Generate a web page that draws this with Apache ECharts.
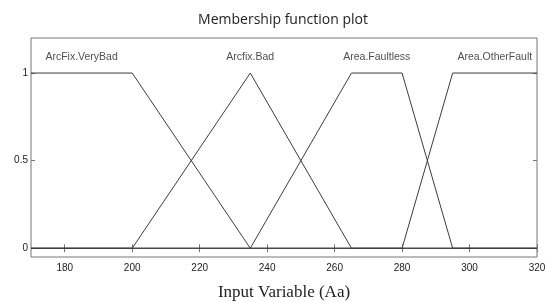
<!DOCTYPE html>
<html>
<head>
    <meta charset="utf-8">
    <title>Membership function plot</title>
    <script src="https://cdn.jsdelivr.net/npm/echarts@6/dist/echarts.min.js"></script>
    <style>
        html, body { margin: 0; padding: 0; background: #fff; }
        #main { width: 545px; height: 302px; }
    </style>
</head>
<body>
<div id="main"></div>
<script>
    // membership functions, sampled at their break points
    var veryBad = [[170, 1], [200, 1], [235, 0], [320, 0]];
    var bad = [[170, 0], [200, 0], [235, 1], [265, 0], [320, 0]];
    var faultless = [[170, 0], [235, 0], [265, 1], [280, 1], [295, 0], [320, 0]];
    var otherFault = [[170, 0], [280, 0], [295, 1], [320, 1]];

    var mfNames = ['ArcFix.VeryBad', 'Arcfix.Bad', 'Area.Faultless', 'Area.OtherFault'];
    // label positions: centre of each peak, at 1.1
    var labelX = [185, 235, 272.5, 307.5];
    var labelY = 1.1;

    var xTicks = [180, 200, 220, 240, 260, 280, 300, 320];
    var yTicks = [0, 0.5, 1];

    var lineCol = '#3c3c3c';
    var textCol = '#222';

    var myChart = echarts.init(document.getElementById('main'));

    function mfSeries(name, data) {
        return {
            name: name,
            type: 'line',
            data: data,
            symbol: 'none',
            silent: true,
            lineStyle: {color: lineCol, width: 1}
        };
    }

    var series = [
        mfSeries(mfNames[0], veryBad),
        mfSeries(mfNames[1], bad),
        mfSeries(mfNames[2], faultless),
        mfSeries(mfNames[3], otherFault),
        {
            type: 'scatter',
            symbolSize: 0,
            silent: true,
            data: labelX.map(function (x, i) {
                return {value: [x, labelY], name: mfNames[i]};
            }),
            label: {
                show: true,
                position: 'inside',
                offset: [0, 2],
                formatter: '{b}',
                color: textCol,
                fontFamily: 'Liberation Sans',
                fontSize: 10.5
            }
        }
    ];

    var xBase = {
        type: 'value',
        min: 170,
        max: 320,
        splitLine: {show: false},
        axisLine: {show: false},
        axisTick: {inside: true, length: 4, customValues: xTicks, lineStyle: {color: '#777'}}
    };

    var yBase = {
        type: 'value',
        min: -0.05,
        max: 1.2,
        splitLine: {show: false},
        axisLine: {show: false},
        axisTick: {inside: true, length: 4, customValues: yTicks, lineStyle: {color: '#777'}}
    };

    myChart.setOption({
        animation: false,
        title: {
            text: 'Membership function plot',
            left: 278,
            top: 8,
            textAlign: 'center',
            textStyle: {fontFamily: 'Open Sans', fontSize: 14, fontWeight: 'normal', color: '#222'}
        },
        grid: {
            left: 31, right: 8, top: 38, bottom: 45,
            outerBoundsMode: 'none',
            containLabel: false,
            show: true,
            borderColor: '#777',
            borderWidth: 1
        },
        xAxis: [
            Object.assign({}, xBase, {
                position: 'bottom',
                name: 'Input Variable (Aa)',
                nameLocation: 'middle',
                nameGap: 27,
                nameTextStyle: {fontFamily: 'Liberation Serif', fontSize: 17, color: '#222'},
                axisLabel: {customValues: xTicks, color: textCol, fontFamily: 'Liberation Sans', fontSize: 10, margin: 6}
            }),
            Object.assign({}, xBase, {position: 'top', axisLabel: {show: false}})
        ],
        yAxis: [
            Object.assign({}, yBase, {
                position: 'left',
                axisLabel: {customValues: yTicks, color: textCol, fontFamily: 'Liberation Sans', fontSize: 10, margin: 3}
            }),
            Object.assign({}, yBase, {position: 'right', axisLabel: {show: false}})
        ],
        series: series
    });
</script>
</body>
</html>
